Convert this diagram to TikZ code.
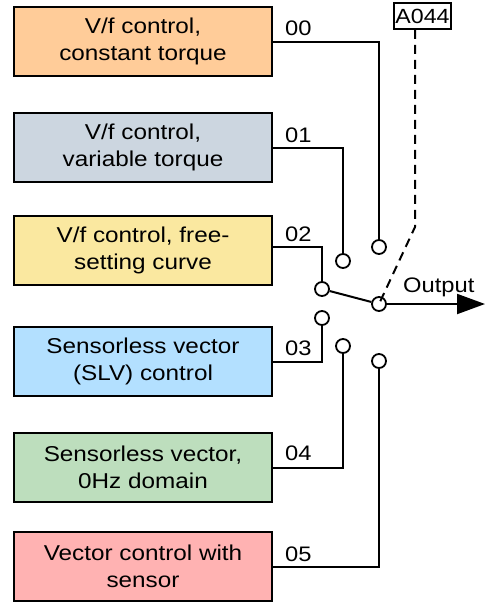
\documentclass[tikz,border=0pt]{standalone}
\usepackage{fontspec}
\setmainfont{Liberation Sans}[FakeStretch=1.13]
\usetikzlibrary{arrows.meta}
\definecolor{cOrange}{RGB}{255,204,153}
\definecolor{cGray}{RGB}{204,214,224}
\definecolor{cYellow}{RGB}{250,232,160}
\definecolor{cBlue}{RGB}{179,224,255}
\definecolor{cGreen}{RGB}{189,222,189}
\definecolor{cPink}{RGB}{255,178,178}
\begin{document}
\begin{tikzpicture}[x=1pt,y=-1pt,
  modebox/.style={draw, line width=2.4pt, minimum width=257.6pt, minimum height=68.6pt,
    align=center, inner sep=0pt, font=\fontsize{21.5}{27}\selectfont},
  contact/.style={circle, draw, fill=white, line width=1.8pt, minimum size=14pt, inner sep=0pt},
  wire/.style={line width=2pt},
  lbl/.style={anchor=base west, inner sep=0pt, font=\fontsize{21}{24}\selectfont},
  selbox/.style={draw, line width=1.8pt, minimum width=57pt, minimum height=26pt,
    inner sep=0pt, font=\fontsize{20.5}{24}\selectfont}]
\useasboundingbox (0,0) rectangle (485,603);

\node[modebox, fill=cOrange] (b0) at (143,41.5) {V/f control,\\constant torque};
\node[modebox, fill=cGray]   (b1) at (143,147.5) {V/f control,\\variable torque};
\node[modebox, fill=cYellow] (b2) at (143,250.5) {V/f control, free-\\setting curve};
\node[modebox, fill=cBlue]   (b3) at (143,361.5) {Sensorless vector\\(SLV) control};
\node[modebox, fill=cGreen]  (b4) at (143,467.5) {Sensorless vector,\\0Hz domain};
\node[modebox, fill=cPink]   (b5) at (143,566.5) {Vector control with\\sensor};

\node[selbox] (sel) at (422.5,16) {A044};

\coordinate (bend) at (415,227);
\coordinate (out) at (485,304);

% wires (drawn before contacts so that contacts cover the ends)
\draw[wire] (b0.east) -| (379,247);
\draw[wire] (b1.east) -| (343,261);
\draw[wire] ([yshift=3.5pt]b2.east) -| (322,289);
\draw[wire] (b3.east) -| (322,318);
\draw[wire] (b4.east) -| (343,346);
\draw[wire] (b5.east) -| (379,361);
\draw[wire, dash pattern=on 9pt off 6pt] (bend |- sel.south) -- (bend) -- (379,304);

\node[contact] (c0) at (379,247) {};
\node[contact] (c1) at (343,261) {};
\node[contact] (c2) at (322,289) {};
\node[contact] (c3) at (322,318) {};
\node[contact] (c4) at (343,346) {};
\node[contact] (c5) at (379,361) {};
\node[contact, fill=none] (p) at (379,304) {};

\draw[wire] (c2) -- (p);
\draw[wire, -{Triangle[length=28pt,width=20pt]}] (p) -- (out);

\node[lbl] (l0) at (285,35) {00};
\node[lbl] (l1) at (285,142) {01};
\node[lbl] (l2) at (285,241) {02};
\node[lbl] (l3) at (285,355) {03};
\node[lbl] (l4) at (285,460) {04};
\node[lbl] (l5) at (285,561) {05};
\node[lbl] (lo) at (403,292) {Output};
\end{tikzpicture}
\end{document}
